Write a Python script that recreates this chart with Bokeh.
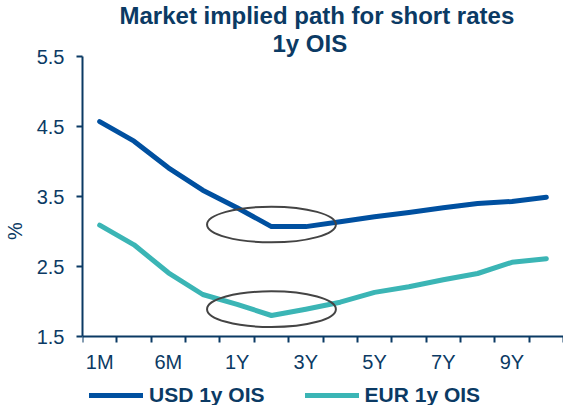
from bokeh.plotting import figure
from bokeh.models import FixedTicker, Title, Legend, LegendItem, Range1d
from bokeh.embed import file_html
from bokeh.resources import INLINE

# ---- data ----
categories = ["1M", "3M", "6M", "9M", "1Y", "2Y", "3Y", "4Y", "5Y", "6Y", "7Y", "8Y", "9Y", "10Y"]
shown_labels = ["1M", "6M", "1Y", "3Y", "5Y", "7Y", "9Y"]
usd_1y_ois = [4.57, 4.29, 3.91, 3.59, 3.34, 3.07, 3.07, 3.14, 3.21, 3.27, 3.34, 3.40, 3.43, 3.49]
eur_1y_ois = [3.09, 2.81, 2.41, 2.10, 1.96, 1.80, 1.89, 1.99, 2.13, 2.21, 2.31, 2.40, 2.56, 2.61]
y_ticks = [1.5, 2.5, 3.5, 4.5, 5.5]
highlight_at = ["2Y", "2Y"]
highlight_level = [3.10, 1.89]
highlight_span = [3.75, 3.75]
highlight_depth = [0.51, 0.51]

NAVY = "#0B3A64"
USD_C = "#0050A0"
EUR_C = "#3BB5B5"
FONT = "Liberation Sans"

Y_MIN, Y_MAX = y_ticks[0], y_ticks[-1]
PX_PER_UNIT = 70.0
FRAME_H = 349
xs = list(range(len(categories)))

# frame extends below the x axis so the legend can sit inside it
p = figure(frame_width=481, frame_height=FRAME_H, output_backend="svg", toolbar_location=None,
           x_range=Range1d(-0.5, len(categories) - 0.5),
           y_range=Range1d(Y_MAX - FRAME_H / PX_PER_UNIT, Y_MAX),
           min_border_left=78, min_border_right=0, min_border_top=0, min_border_bottom=0)
p.outline_line_color = None
p.xgrid.visible = False
p.ygrid.visible = False
p.background_fill_color = "white"

r1 = p.line(xs, usd_1y_ois, line_color=USD_C, line_width=5, line_cap="round", line_join="round")
r2 = p.line(xs, eur_1y_ois, line_color=EUR_C, line_width=5, line_cap="round", line_join="round")

hx = [categories.index(c) for c in highlight_at]
p.ellipse(x=hx, y=highlight_level, width=highlight_span, height=highlight_depth,
          fill_color=None, line_color="#444444", line_width=2)

# titles
p.title.text = "Market implied path for short rates"
p.title.text_font = FONT
p.title.text_font_size = "24px"
p.title.text_font_style = "bold"
p.title.text_color = NAVY
p.title.align = "left"
p.title.offset = 37
p.title.standoff = -1
t2 = Title(text="1y OIS", text_font=FONT, text_font_size="24px",
           text_font_style="bold", text_color=NAVY, align="left", offset=190, standoff=-1)
p.add_layout(t2, "above")

# x axis (placed at y = 1.5)
xa = p.xaxis[0]
xa.fixed_location = Y_MIN
xa.ticker = FixedTicker(ticks=xs, minor_ticks=[i - 0.5 for i in range(len(categories) + 1)])
xa.major_label_overrides = {i: (c if c in shown_labels else "") for i, c in enumerate(categories)}
xa.major_tick_out = 0
xa.major_tick_in = 0
xa.minor_tick_out = 6
xa.minor_tick_in = 0
xa.minor_tick_line_width = 2
xa.minor_tick_line_color = NAVY
xa.axis_line_color = NAVY
xa.axis_line_width = 2
xa.major_label_text_font = FONT
xa.major_label_text_font_size = "20px"
xa.major_label_text_color = NAVY
xa.major_label_standoff = 8

# y axis
ya = p.yaxis[0]
ya.bounds = (Y_MIN, Y_MAX)
ya.ticker = FixedTicker(ticks=y_ticks, minor_ticks=[])
ya.major_tick_out = 6
ya.major_tick_in = 0
ya.major_tick_line_width = 2
ya.major_tick_line_color = NAVY
ya.axis_line_color = NAVY
ya.axis_line_width = 2
ya.major_label_text_font = FONT
ya.major_label_text_font_size = "20px"
ya.major_label_text_color = NAVY
ya.major_label_standoff = 12
ya.axis_label = "%"
ya.axis_label_text_font = FONT
ya.axis_label_text_font_size = "20px"
ya.axis_label_text_font_style = "normal"
ya.axis_label_text_color = NAVY
ya.axis_label_standoff = 8

legend = Legend(items=[LegendItem(label="USD 1y OIS", renderers=[r1]),
                       LegendItem(label="EUR 1y OIS", renderers=[r2])],
                orientation="horizontal", location=(7, -2),
                border_line_color=None, background_fill_alpha=0,
                label_text_font=FONT, label_text_font_size="21px", label_text_font_style="bold",
                label_text_color=NAVY, glyph_width=54, glyph_height=24, label_height=24,
                label_standoff=6, spacing=40, padding=0, margin=0)
p.add_layout(legend)

open("out.html", "w").write(file_html(p, INLINE))
